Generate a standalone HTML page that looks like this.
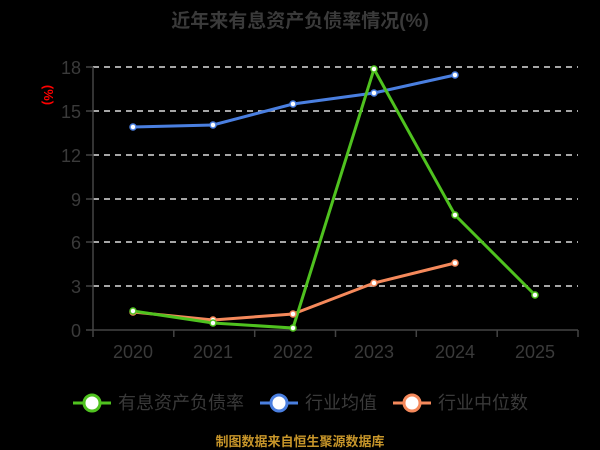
<!DOCTYPE html>
<html><head><meta charset="utf-8"><style>
body{margin:0;background:#000;width:600px;height:450px;overflow:hidden}
svg{display:block}
text{font-family:"Liberation Sans","Noto Sans CJK SC",sans-serif}
</style></head><body>
<svg width="600" height="450" viewBox="0 0 600 450">
<rect width="600" height="450" fill="#000"/>
<text x="300" y="27" text-anchor="middle" font-size="19" font-weight="bold" fill="#3a3a3a">近年来有息资产负债率情况(%)</text>
<text transform="translate(44,95) rotate(90)" text-anchor="middle" font-size="13" font-weight="bold" fill="#f00">(%)</text>
<g stroke="#ddd" stroke-width="1.5" stroke-dasharray="6,5">
<line x1="93" y1="67" x2="578" y2="67"/><line x1="93" y1="111" x2="578" y2="111"/>
<line x1="93" y1="155" x2="578" y2="155"/><line x1="93" y1="199" x2="578" y2="199"/>
<line x1="93" y1="242" x2="578" y2="242"/><line x1="93" y1="286" x2="578" y2="286"/>
</g>
<g stroke="#444" stroke-width="1.5" fill="none">
<line x1="93" y1="67" x2="93" y2="330"/><line x1="93" y1="330" x2="578" y2="330"/>
<line x1="86" y1="67" x2="93" y2="67"/><line x1="86" y1="111" x2="93" y2="111"/><line x1="86" y1="155" x2="93" y2="155"/><line x1="86" y1="199" x2="93" y2="199"/><line x1="86" y1="242" x2="93" y2="242"/><line x1="86" y1="286" x2="93" y2="286"/><line x1="86" y1="330" x2="93" y2="330"/>
<line x1="93" y1="330" x2="93" y2="337"/><line x1="173.8" y1="330" x2="173.8" y2="337"/><line x1="254.7" y1="330" x2="254.7" y2="337"/><line x1="335.5" y1="330" x2="335.5" y2="337"/><line x1="416.3" y1="330" x2="416.3" y2="337"/><line x1="497.2" y1="330" x2="497.2" y2="337"/><line x1="578" y1="330" x2="578" y2="337"/>
</g>
<g font-size="18" fill="#3a3a3a" text-anchor="end">
<text x="81" y="74">18</text><text x="81" y="118">15</text><text x="81" y="162">12</text><text x="81" y="206">9</text><text x="81" y="249">6</text><text x="81" y="293">3</text><text x="81" y="337">0</text>
</g>
<g font-size="18" fill="#3a3a3a" text-anchor="middle">
<text x="133" y="358">2020</text><text x="213" y="358">2021</text><text x="293" y="358">2022</text><text x="374" y="358">2023</text><text x="455" y="358">2024</text><text x="535" y="358">2025</text>
</g>
<polyline points="133,127 213,125 293,104 374,93 455,75" fill="none" stroke="#4a7fe0" stroke-width="3"/>
<polyline points="133,312 213,320 293,314 374,283 455,263" fill="none" stroke="#f5895b" stroke-width="3"/>
<polyline points="133,311 213,323 293,328 374,69 455,215 535,295" fill="none" stroke="#4fc21f" stroke-width="3"/>
<g fill="#fff" stroke-width="1.5">
<g stroke="#4a7fe0"><circle cx="133" cy="127" r="3"/><circle cx="213" cy="125" r="3"/><circle cx="293" cy="104" r="3"/><circle cx="374" cy="93" r="3"/><circle cx="455" cy="75" r="3"/></g>
<g stroke="#f5895b"><circle cx="133" cy="312" r="3"/><circle cx="213" cy="320" r="3"/><circle cx="293" cy="314" r="3"/><circle cx="374" cy="283" r="3"/><circle cx="455" cy="263" r="3"/></g>
<g stroke="#4fc21f"><circle cx="133" cy="311" r="3"/><circle cx="213" cy="323" r="3"/><circle cx="293" cy="328" r="3"/><circle cx="374" cy="69" r="3"/><circle cx="455" cy="215" r="3"/><circle cx="535" cy="295" r="3"/></g>
</g>
<g stroke-width="3">
<line x1="73" y1="403" x2="111" y2="403" stroke="#4fc21f"/><circle cx="92" cy="403" r="8" fill="#fff" stroke="#4fc21f"/>
<line x1="260" y1="403" x2="298" y2="403" stroke="#4a7fe0"/><circle cx="279" cy="403" r="8" fill="#fff" stroke="#4a7fe0"/>
<line x1="393" y1="403" x2="431" y2="403" stroke="#f5895b"/><circle cx="412" cy="403" r="8" fill="#fff" stroke="#f5895b"/>
</g>
<g font-size="18" fill="#3a3a3a">
<text x="118" y="409">有息资产负债率</text><text x="305" y="409">行业均值</text><text x="438" y="409">行业中位数</text>
</g>
<text x="300" y="446" text-anchor="middle" font-size="13" font-weight="bold" fill="#c8962a">制图数据来自恒生聚源数据库</text>
</svg>
</body></html>
